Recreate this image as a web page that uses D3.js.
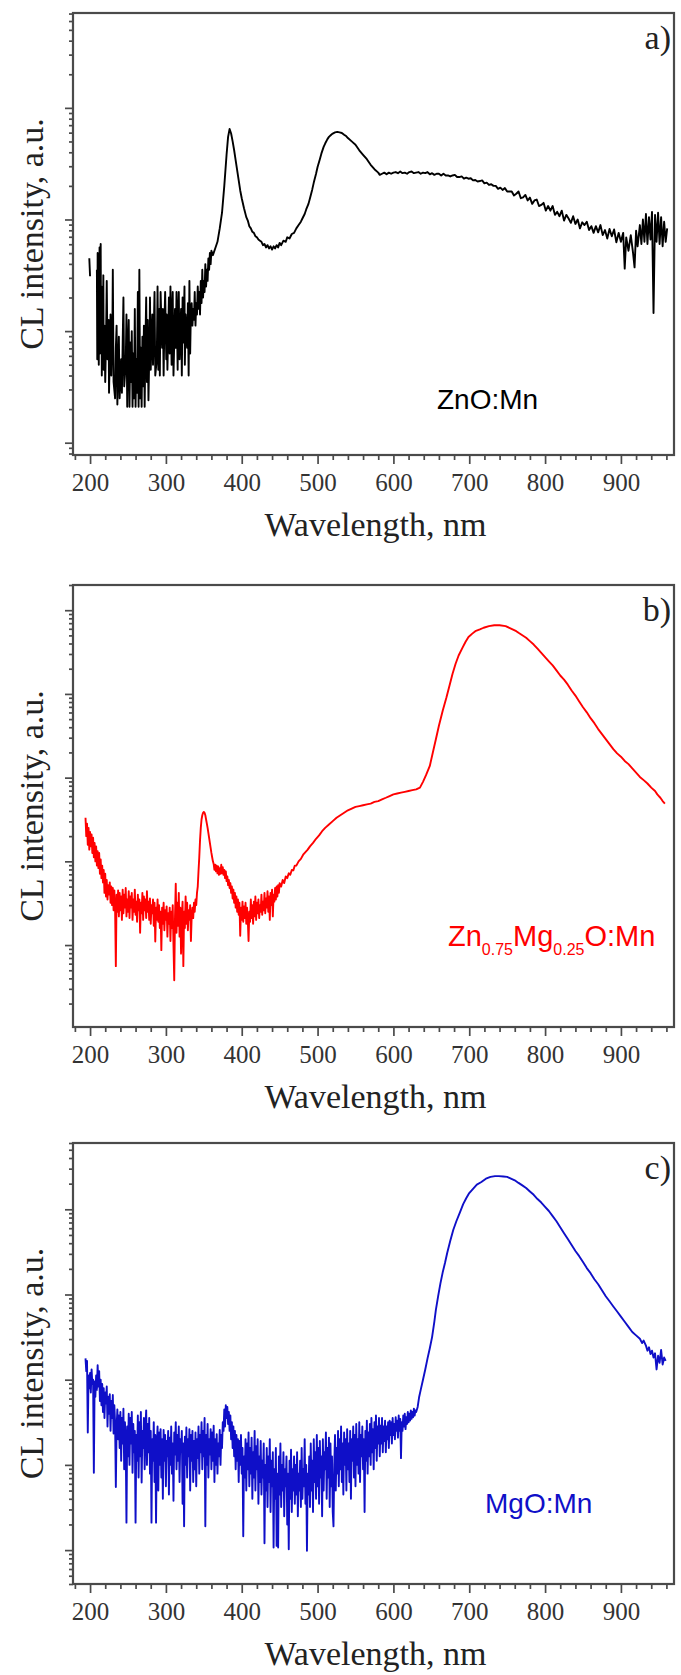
<!DOCTYPE html>
<html>
<head>
<meta charset="utf-8">
<script src="https://cdn.jsdelivr.net/npm/d3@7"></script>
<style>
  body { margin: 0; background: #fff; }
  svg { display: block; }
</style>
</head>
<body>
<svg id="chart" width="681" height="1675"></svg>
<script>
// x axis (wavelength, nm)
const wavelengthRange = [177.5, 970];
const wavelengthTicks = [200, 300, 400, 500, 600, 700, 800, 900];

// y ranges of the three log axes (a.u.)
const znoRange = [7.76, 70800];
const znmgoRange = [1.05, 200000];
const mgoRange = [4.0, 600000];

// panel a) ZnO:Mn, [wavelength, CL intensity]
const znoSpectrum = [
  [199, 450], [200, 310], [204, null],
  [209, 355], [209.5, 56], [210, 501], [210.5, 89], [211, 398], [211.5, 50], [212, 126], [212.5, 562],
  [213, 63], [213.5, 112], [214, 603], [214.5, 71], [215, 251], [215.5, 40], [216, 126], [217, 89],
  [217.5, 316], [218, 45], [219, 112], [220, 35], [221, 79], [222, 282], [223, 56], [224.5, 126],
  [225, 28], [226.5, 89], [227, 141], [228, 40], [229.5, 112], [230, 355], [231, 35], [233, 25],
  [234, 71], [235, 112], [236, 22], [237.5, 63], [238, 89], [239, 25], [241, 56], [242, 28],
  [243, 79], [244, 200], [245, 32], [247, 50], [248, 141], [249, 21], [250, 71],
  [251, 126], [252, 21], [253, 79], [254, 35], [255, 100], [256, 21],
  [257, 63], [258, 25], [259, 158], [260, 21], [261, 56], [262, 28], [263, 224], [264, 21],
  [265, 355], [266, 25], [267, 71], [268, 21], [269, 89], [270, 32], [271, 112], [272, 21],
  [273, 79], [274, 200], [275, 35], [276, 126], [277, 24], [278.5, 89], [279, 200], [280, 45],
  [282, 141], [283, 50], [284, 100], [285, 224], [286, 40], [288, 56], [289, 251], [290, 45],
  [291.5, 158], [292, 40], [293, 224], [295, 71], [296, 158], [297, 40], [298, 112], [299, 224],
  [300.5, 56], [301, 141], [302, 45], [304, 200], [305, 63], [306, 251], [307.5, 50], [308, 126],
  [309, 224], [310, 40], [312, 158], [313, 71], [314, 224], [315.5, 45], [316, 126], [317, 224],
  [318, 56], [320, 158], [321, 40], [322, 200], [323, 79], [324.5, 251], [325, 50], [326, 141],
  [328, 71], [329, 178], [330, 40], [331, 282], [332, 63], [333, 158],
  [334, 178], [335, 112], [336, 158], [337, 126], [338, 224], [339, 112], [340, 178], [341, 141],
  [342, 251], [343, 158], [344, 224], [345, 141], [346, 282], [347, 178], [348, 355], [349, 200],
  [350, 282], [351, 224], [352, 398], [353, 251], [354, 355], [355, 282], [356, 447], [357, 355],
  [358, 501], [359, 398], [360, 525],
  [362, 479], [365, 550], [368, 631], [371, 832], [374, 1150], [377, 2000], [380, 3800], [382, 5500],
  [384, 6460], [386, 5890], [388, 5010], [390, 4170], [392, 3390], [394, 2750], [396, 2240], [398, 1820],
  [400, 1550], [403, 1260], [406, 1050], [408, 977], [410, 871], [412, 832], [414, 776], [416, 759],
  [418, 708], [420, 692], [422, 661], [424, 646], [426, 631], [428, 589], [430, 603], [432, 562],
  [434, 589], [436, 550], [438, 575], [440, 537], [442, 575], [444, 550], [446, 589], [448, 562],
  [450, 617], [452, 589], [455, 646], [458, 631], [460, 692], [463, 676], [466, 741], [469, 759],
  [472, 832], [475, 891], [478, 955], [480, 1020], [483, 1120], [485, 1230], [488, 1380], [490, 1550],
  [493, 1860], [495, 2140], [498, 2570], [500, 2950], [503, 3470], [505, 3890], [508, 4470], [510, 4790],
  [513, 5250], [515, 5500], [518, 5750], [520, 5890], [523, 6030], [526, 6100], [529, 6030], [532, 5960],
  [535, 5750], [538, 5560], [540, 5370], [545, 5010], [550, 4680], [555, 4170], [560, 3800], [565, 3470],
  [570, 3090], [575, 2820], [580, 2630], [582, 2510],
  [585, 2570], [588, 2630], [591, 2540], [594, 2630], [597, 2570], [600, 2630], [603, 2660], [606, 2600],
  [609, 2690], [612, 2600], [615, 2630], [618, 2570], [621, 2660], [624, 2690], [627, 2600], [630, 2630],
  [633, 2660], [636, 2570], [639, 2630], [642, 2600], [645, 2660], [648, 2540], [651, 2600], [654, 2510],
  [657, 2570], [660, 2570], [663, 2480], [666, 2570], [669, 2480], [672, 2480], [675, 2430], [678, 2480],
  [681, 2510], [684, 2400], [687, 2400], [690, 2430], [693, 2320], [696, 2370], [699, 2320], [702, 2340],
  [705, 2240], [708, 2260], [711, 2190], [714, 2210], [717, 2240], [720, 2110], [723, 2140], [726, 2040],
  [729, 2070], [732, 2000], [735, 2000], [738, 1880], [741, 1930], [744, 1840], [747, 1910], [750, 1780],
  [753, 1780], [756, 1780], [759, 1640], [762, 1700], [765, 1780], [768, 1550], [771, 1580], [774, 1660],
  [777, 1480], [780, 1570], [783, 1380], [786, 1480], [789, 1510], [792, 1320], [795, 1350], [798, 1410],
  [801, 1200], [804, 1320], [807, 1200], [810, 1320], [813, 1100], [816, 1170], [819, 1070], [822, 1200],
  [825, 977], [828, 1100], [831, 1020], [834, 933], [837, 1070], [840, 912], [843, 1000], [846, 832],
  [849, 944], [852, 891], [855, 955], [858, 804], [861, 871], [864, 759], [867, 871], [870, 767],
  [873, 891], [876, 724], [879, 804], [882, 676], [885, 822], [888, 708], [891, 813], [894, 624],
  [897, 759], [900, 631], [903, 759], [905, 363], [907, 692], [910, 525], [913, 724], [916, 501],
  [918, 372], [920, 794], [922, 575], [925, 891], [927, 603], [929, 1000], [931, 631], [933, 1120],
  [935, 603], [937, 1050], [939, 661], [941, 1170], [943, 145], [945, 1100], [947, 631], [949, 1150],
  [951, 603], [953, 1050], [955, 575], [957, 955], [959, 631], [961, 832]
];

// panel b) Zn0.75Mg0.25O:Mn
const znmgoSpectrum = [
  [194, 331], [195, 200], [196, 282], [197, 158], [198, 251], [199, 138], [200, 224], [201, 151],
  [202, 209], [203, 126], [204, 191], [205, 112], [206, 166], [207, 100], [208, 151], [209, 89],
  [210, 132], [211, 83], [212, 126], [213, 71], [214, 105], [215, 63], [216, 89], [217, 56],
  [218, 79], [219, 42], [220, 71], [221, 38], [222, 60], [223, 35], [224, 52], [225, 40],
  [226, 56], [227, 32], [228, 50], [229, 30], [230, 48], [231, 26], [232, 45], [233, 28],
  [234, 5.6], [235, 40], [236, 25], [237, 45], [238, 22], [239, 42], [240, 26], [241, 38],
  [242, 20], [243, 46], [244, 24], [245, 40], [246, 28], [247, 48], [248, 22], [249, 35],
  [250, 25], [251, 44], [252, 21], [253, 38], [254, 28], [255, 42], [256, 20], [257, 35],
  [258, 25], [259, 46], [260, 23], [261, 33], [262, 19], [263, 40], [264, 26], [265, 35],
  [266, 14], [267, 32], [268, 24], [269, 42], [270, 20], [271, 38], [272, 26], [273, 35],
  [274, 21], [275, 44], [276, 25], [277, 33], [278, 20], [279, 36], [280, 18], [281, 30],
  [282, 24], [283, 35], [284, 17], [285, 32], [286, 11], [287, 28], [288, 20], [289, 35],
  [290, 19], [291, 30], [292, 16], [293, 25], [294, 8.7], [295, 28], [296, 18], [297, 32],
  [298, 15], [299, 26], [300, 20], [301, 29], [302, 12.6], [303, 24], [304, 18], [305, 28],
  [306, 11.2], [307, 25], [308, 16], [309, 30], [310, 10], [311, 3.8], [312, 22], [313, 54],
  [314, 14], [315, 32], [316, 17], [317, 42], [318, 12.6], [319, 28], [320, 7.9], [321, 22],
  [322, 33], [323, 5.6], [324, 25], [325, 16], [326, 38], [327, 18], [328, 32], [329, 15],
  [330, 26], [331, 20], [332, 30], [333, 11.2], [334, 22], [335, 28], [336, 21], [337, 32],
  [338, 25], [339, 35], [340, 30], [341, 42], [342, 50], [343, 76], [344, 112], [345, 178],
  [346, 251], [347, 316], [348, 355], [349, 380], [350, 389], [351, 380], [352, 355], [353, 316],
  [354, 282], [355, 251], [356, 219], [357, 191], [358, 166], [359, 145], [360, 126], [361, 112],
  [362, 100], [363, 93], [364, 79], [365, 91], [366, 76], [367, 89], [368, 72], [369, 87],
  [370, 69], [371, 83], [372, 71], [373, 91], [374, 72], [375, 85], [376, 69], [377, 79],
  [378, 63], [379, 76], [380, 58], [381, 66], [382, 52], [383, 60], [384, 48], [385, 55],
  [386, 42], [387, 50], [388, 36], [389, 46], [390, 32], [391, 42], [392, 28], [393, 38],
  [394, 25], [395, 35], [396, 23], [397, 32], [398, 12.9], [399, 28], [400, 20], [401, 33],
  [402, 19], [403, 29], [404, 21], [405, 32], [406, 18], [407, 28], [408, 20], [409, 11.2],
  [410, 25], [411, 19], [412, 35], [413, 21], [414, 30], [415, 18], [416, 33], [417, 22],
  [418, 38], [419, 20], [420, 32], [421, 24], [422, 35], [423, 21], [424, 30], [425, 25],
  [426, 40], [427, 23], [428, 33], [429, 26], [430, 42], [431, 24], [432, 36], [433, 28],
  [434, 44], [435, 25], [436, 38], [437, 20], [438, 42], [439, 30], [440, 46], [441, 22],
  [442, 40], [443, 33], [444, 48], [445, 35], [446, 50], [447, 38], [448, 52], [449, 42],
  [450, 55], [452, 50], [454, 60], [456, 55], [458, 66], [460, 63], [462, 72], [464, 69],
  [466, 79], [468, 78], [470, 89], [472, 89], [475, 100], [478, 107], [481, 120], [484, 129],
  [487, 138], [490, 151], [494, 166], [498, 186], [502, 204], [506, 229], [510, 251], [515, 275],
  [520, 302], [525, 331], [530, 355], [535, 380], [540, 407], [545, 427], [550, 447], [555, 457],
  [560, 468], [565, 479], [570, 490], [575, 513], [580, 525], [585, 550], [590, 575], [595, 603],
  [600, 631], [605, 646], [610, 661], [615, 676], [620, 692], [625, 708], [630, 724], [635, 759],
  [639, 891], [643, 1070], [648, 1380], [652, 2000], [656, 2880], [660, 4170], [665, 6310], [670, 9120],
  [674, 12600], [678, 17400], [682, 22900], [686, 28800], [691, 35500], [695, 41700], [699, 47900], [704, 52500],
  [708, 56200], [714, 58900], [719, 61700], [726, 64600], [733, 66100], [740, 66100], [748, 64600], [755, 60300],
  [762, 56200], [765, 53700], [770, 50100], [775, 46800], [780, 42700], [785, 38900], [790, 34700], [795, 30900],
  [800, 27500], [805, 24500], [810, 21900], [815, 19100], [820, 16600], [825, 14800], [830, 12900], [835, 11000],
  [840, 9550], [845, 8130], [850, 6920], [855, 6030], [860, 5130], [865, 4470], [870, 3800], [875, 3310],
  [880, 2880], [885, 2510], [890, 2190], [895, 1950], [900, 1780], [905, 1580], [910, 1450], [915, 1290],
  [920, 1150], [925, 1020], [930, 933], [935, 851], [940, 759], [945, 692], [948, 631], [950, 603],
  [952, 575], [955, 525], [958, 490]
];

// panel c) MgO:Mn
const mgoSpectrum = [
  [194, 1780], [195, 1260], [196, 1660], [197, 240], [198, 1120], [199, 794], [200, 1200], [201, 708],
  [202, 1320], [203, 891], [204, 1000], [205, 81], [206, 955], [207, 631], [208, 1120], [209, 759],
  [210, 1480], [211, 832], [212, 1260], [213, 562], [214, 1000], [215, 501], [216, 891], [217, 417],
  [218, 794], [219, 355], [220, 708], [221, 525], [222, 832], [223, 282], [224, 631], [225, 398],
  [226, 676], [227, 251], [228, 562], [229, 355], [230, 661], [231, 234], [232, 501], [233, 316],
  [234, 55], [235, 282], [236, 447], [237, 200], [238, 380], [239, 158], [240, 417], [241, 112],
  [242, 355], [243, 178], [244, 457], [245, 89], [246, 316], [247, 200], [248, 21], [249, 282],
  [250, 126], [251, 398], [252, 100], [253, 355], [254, 178], [255, 417], [256, 81], [257, 302],
  [258, 141], [259, 251], [260, 21], [261, 224], [262, 112], [263, 380], [264, 71], [265, 316],
  [266, 126], [267, 417], [268, 62], [269, 251], [270, 158], [271, 355], [272, 89], [273, 282],
  [274, 437], [275, 100], [276, 302], [277, 141], [278, 355], [279, 79], [280, 251], [281, 21],
  [282, 200], [283, 112], [284, 316], [285, 63], [286, 224], [287, 21], [288, 158], [289, 282],
  [290, 50], [291, 240], [292, 100], [293, 263], [294, 71], [295, 200], [296, 40], [297, 257],
  [298, 112], [299, 224], [300, 56], [301, 191], [302, 126], [303, 251], [304, 45], [305, 209],
  [306, 100], [307, 282], [308, 79], [309, 178], [310, 38], [311, 240], [312, 132], [313, 316],
  [314, 89], [315, 224], [316, 112], [317, 282], [318, 63], [319, 200], [320, 141], [321, 251],
  [322, 35], [323, 178], [324, 19], [325, 214], [326, 100], [327, 275], [328, 71], [329, 200],
  [330, 126], [331, 263], [332, 50], [333, 224], [334, 112], [335, 251], [336, 63], [337, 191],
  [338, 89], [339, 240], [340, 56], [341, 200], [342, 120], [343, 282], [344, 79], [345, 224],
  [346, 141], [347, 316], [348, 89], [349, 251], [350, 126], [351, 355], [352, 19], [353, 224],
  [354, 100], [355, 302], [356, 71], [357, 200], [358, 132], [359, 263], [360, 89], [361, 240],
  [362, 112], [363, 288], [364, 63], [365, 200], [366, 100], [367, 229], [368, 79], [369, 178],
  [370, 126], [371, 257], [372, 100], [373, 224], [374, 158], [375, 316], [376, 251], [377, 447],
  [378, 282], [379, 501], [380, 355], [381, 479], [382, 302], [383, 417], [384, 251], [385, 380],
  [386, 200], [387, 316], [388, 158], [389, 282], [390, 126], [391, 251], [392, 89], [393, 224],
  [394, 112], [395, 200], [396, 63], [397, 191], [398, 100], [399, 224], [400, 79], [401, 158],
  [402, 14.5], [403, 126], [404, 71], [405, 200], [406, 50], [407, 178], [408, 89], [409, 240],
  [410, 56], [411, 158], [412, 79], [413, 209], [414, 40], [415, 141], [416, 71], [417, 251],
  [418, 50], [419, 166], [420, 89], [421, 200], [422, 35], [423, 126], [424, 63], [425, 191],
  [426, 45], [427, 112], [428, 71], [429, 178], [430, 12], [431, 100], [432, 50], [433, 158],
  [434, 32], [435, 126], [436, 63], [437, 200], [438, 28], [439, 112], [440, 56], [441, 141],
  [442, 10.7], [443, 89], [444, 40], [445, 158], [446, 11.2], [447, 79], [448, 10.7], [449, 126],
  [450, 45], [451, 178], [452, 32], [453, 100], [454, 50], [455, 141], [456, 25], [457, 89],
  [458, 56], [459, 126], [460, 20], [461, 79], [462, 10.2], [463, 112], [464, 40], [465, 151],
  [466, 28], [467, 89], [468, 50], [469, 126], [470, 35], [471, 100], [472, 45], [473, 141],
  [474, 25], [475, 79], [476, 50], [477, 112], [478, 32], [479, 158], [480, 40], [481, 89],
  [482, 56], [483, 200], [484, 35], [485, 100], [486, 9.8], [487, 79], [488, 45], [489, 126],
  [490, 32], [491, 178], [492, 50], [493, 112], [494, 28], [495, 200], [496, 63], [497, 141],
  [498, 40], [499, 224], [500, 56], [501, 158], [502, 35], [503, 191], [504, 71], [505, 126],
  [506, 25], [507, 200], [508, 50], [509, 141], [510, 89], [511, 240], [512, 40], [513, 158],
  [514, 71], [515, 209], [516, 32], [517, 178], [518, 56], [519, 126], [520, 28], [521, 19],
  [522, 100], [523, 224], [524, 50], [525, 158], [526, 79], [527, 251], [528, 56], [529, 200],
  [530, 89], [531, 282], [532, 63], [533, 178], [534, 45], [535, 240], [536, 100], [537, 200],
  [538, 50], [539, 263], [540, 89], [541, 178], [542, 63], [543, 251], [544, 40], [545, 200],
  [546, 112], [547, 282], [548, 71], [549, 224], [550, 56], [551, 302], [552, 100], [553, 200],
  [554, 79], [555, 316], [556, 63], [557, 224], [558, 126], [559, 282], [560, 89], [561, 200],
  [562, 28], [563, 251], [564, 112], [565, 331], [566, 79], [567, 240], [568, 126], [569, 302],
  [570, 100], [571, 355], [572, 141], [573, 263], [574, 89], [575, 316], [576, 158], [577, 380],
  [578, 112], [579, 282], [580, 178], [581, 355], [582, 126], [583, 288], [584, 178], [585, 355],
  [586, 141], [587, 282], [588, 191], [589, 331], [590, 141], [591, 282], [592, 200], [593, 316],
  [594, 158], [595, 331], [596, 224], [597, 316], [598, 178], [599, 355], [600, 224], [601, 302],
  [602, 200], [603, 363], [604, 251], [605, 331], [606, 209], [607, 380], [608, 251], [609, 347],
  [610, 120], [611, 316], [612, 251], [613, 380], [614, 282], [615, 398], [616, 263], [617, 363],
  [618, 302], [619, 417], [620, 316], [621, 398], [622, 331], [623, 437], [624, 347], [625, 417],
  [626, 363], [627, 457], [628, 380], [629, 437], [630, 417], [632, 479], [634, 631], [636, 759],
  [639, 1000], [642, 1320], [645, 1780], [648, 2340], [651, 3160], [654, 4790], [656, 6610], [659, 9550],
  [662, 13500], [665, 18200], [668, 23400], [671, 30900], [675, 42700], [679, 57500], [683, 72400], [688, 93300],
  [692, 115000], [696, 135000], [700, 155000], [705, 174000], [710, 195000], [716, 209000], [722, 229000], [728, 240000],
  [734, 245000], [739, 245000], [745, 243000], [750, 240000], [755, 229000], [760, 219000], [765, 204000], [770, 191000],
  [775, 178000], [780, 162000], [785, 148000], [790, 132000], [795, 120000], [800, 107000], [805, 95500], [810, 83200],
  [815, 72400], [820, 61700], [825, 52500], [830, 44700], [835, 38000], [840, 32400], [845, 28200], [850, 24000],
  [855, 20400], [860, 17800], [865, 15100], [870, 13200], [875, 11200], [880, 9550], [885, 8320], [890, 7240],
  [895, 6310], [900, 5500], [905, 4790], [910, 4170], [915, 3630], [920, 3310], [925, 3020], [928, 2690],
  [930, 2880], [933, 2510], [935, 2190], [937, 2400], [939, 2000], [941, 2190], [943, 1820], [945, 2040],
  [947, 1320], [949, 1910], [951, 1580], [953, 2240], [955, 1510], [957, 1820], [959, 1660]
];

const panels = [
  { data: znoSpectrum, range: znoRange, color: "#000000", top: 13, bottom: 455, letter: "a)",
    sample: [["ZnO:Mn", 0]], sampleX: 437, sampleY: 409 },
  { data: znmgoSpectrum, range: znmgoRange, color: "#ff0000", top: 585, bottom: 1027, letter: "b)",
    sample: [["Zn", 0], ["0.75", 1], ["Mg", 0], ["0.25", 1], ["O:Mn", 0]], sampleX: 448, sampleY: 946 },
  { data: mgoSpectrum, range: mgoRange, color: "#0f0fc8", top: 1143, bottom: 1584, letter: "c)",
    sample: [["MgO:Mn", 0]], sampleX: 485, sampleY: 1513 }
];

const left = 73, right = 674;
const axisColor = "#4a4a4a";
const serif = "'Liberation Serif', 'Times New Roman', serif";
const sans = "'Liberation Sans', Arial, sans-serif";

const svg = d3.select("#chart");

const x = d3.scaleLinear().domain(wavelengthRange).range([left, right]);
const xMinor = d3.range(180, 970, 20).filter(d => d % 100 !== 0);

panels.forEach((p, i) => {
  const y = d3.scaleLog().domain(p.range).range([p.bottom, p.top]);
  const decades = y.ticks().filter(d => Math.abs(Math.log10(d) - Math.round(Math.log10(d))) < 1e-9);
  const minors = y.ticks().filter(d => decades.indexOf(d) < 0);

  const g = svg.append("g");

  g.append("clipPath").attr("id", "clip" + i)
    .append("rect")
    .attr("x", left).attr("y", p.top)
    .attr("width", right - left).attr("height", p.bottom - p.top);

  // spectrum
  const line = d3.line()
    .defined(d => d[1] != null)
    .x(d => x(d[0]))
    .y(d => y(d[1]));

  g.append("path")
    .datum(p.data)
    .attr("clip-path", `url(#clip${i})`)
    .attr("fill", "none")
    .attr("stroke", p.color)
    .attr("stroke-width", 1.9)
    .attr("stroke-linejoin", "round")
    .attr("d", line);

  // x axis
  const xAxis = g.append("g")
    .attr("transform", `translate(0,${p.bottom})`)
    .call(d3.axisBottom(x).tickValues(wavelengthTicks).tickSizeInner(9).tickSizeOuter(0).tickPadding(9))
    .attr("font-family", serif)
    .attr("font-size", 25);
  g.append("g")
    .attr("transform", `translate(0,${p.bottom})`)
    .call(d3.axisBottom(x).tickValues(xMinor).tickSizeInner(5).tickSizeOuter(0).tickFormat(""));

  // y axis (log, no labels)
  g.append("g")
    .attr("transform", `translate(${left},0)`)
    .call(d3.axisLeft(y).tickValues(decades).tickSizeInner(8).tickSizeOuter(0).tickFormat(""));
  g.append("g")
    .attr("transform", `translate(${left},0)`)
    .call(d3.axisLeft(y).tickValues(minors).tickSizeInner(4).tickSizeOuter(0).tickFormat(""));

  g.selectAll(".domain").remove();
  g.selectAll(".tick line").attr("stroke", axisColor).attr("stroke-width", 1.7);
  xAxis.selectAll("text")
    .attr("fill", "#333")
    .style("font-family", serif)
    .style("font-size", "25px");

  // frame
  g.append("rect")
    .attr("x", left).attr("y", p.top)
    .attr("width", right - left).attr("height", p.bottom - p.top)
    .attr("fill", "none")
    .attr("stroke", axisColor)
    .attr("stroke-width", 2.2);

  // axis titles
  g.append("text")
    .attr("x", (left + right) / 2 + 2)
    .attr("y", p.bottom + 81)
    .attr("text-anchor", "middle")
    .attr("fill", "#222")
    .style("font-family", serif)
    .style("font-size", "34px")
    .text("Wavelength, nm");

  g.append("text")
    .attr("transform", `translate(43,${(p.top + p.bottom) / 2}) rotate(-90)`)
    .attr("text-anchor", "middle")
    .attr("fill", "#222")
    .style("font-family", serif)
    .style("font-size", "34px")
    .text("CL intensity, a.u.");

  // panel letter
  g.append("text")
    .attr("x", right - 3)
    .attr("y", p.top + 36)
    .attr("text-anchor", "end")
    .attr("fill", "#222")
    .style("font-family", serif)
    .style("font-size", "34px")
    .text(p.letter);

  // sample name
  const label = g.append("text")
    .attr("x", p.sampleX)
    .attr("y", p.sampleY)
    .attr("fill", p.color)
    .style("font-family", sans)
    .style("font-size", i === 1 ? "29px" : "28px");
  let shifted = 0;
  p.sample.forEach(([t, sub]) => {
    const dy = sub ? 9 - shifted : -shifted;
    label.append("tspan")
      .attr("dy", dy)
      .style("font-size", sub ? "16px" : null)
      .text(t);
    shifted = sub ? 9 : 0;
  });
});
</script>
</body>
</html>
